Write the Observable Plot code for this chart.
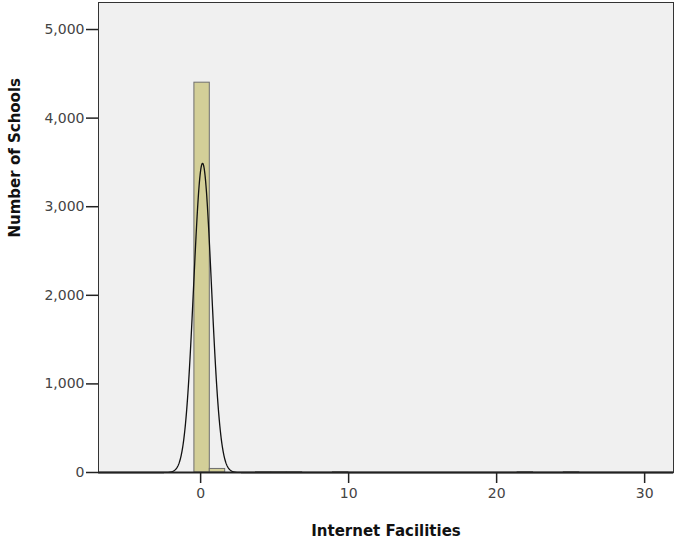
<!DOCTYPE html>
<html>
<head>
<meta charset="utf-8">
<script src="https://cdn.jsdelivr.net/npm/d3@7"></script>
<script src="https://cdn.jsdelivr.net/npm/@observablehq/plot@0.6"></script>
<style>
  html, body { margin: 0; padding: 0; background: #fff; }
</style>
</head>
<body>
<div id="chart"></div>
<script>
// Histogram bins (Internet Facilities) and counts (Number of Schools)
const binStart = [-0.42, 0.62, 3.74, 4.78, 5.82, 8.94, 21.42, 24.54];
const binEnd   = [ 0.62, 1.66, 4.78, 5.82, 6.86, 9.98, 22.46, 25.58];
const counts   = [ 4400,   40,    3,    3,    3,    3,     3,     3];

// Fitted normal curve parameters
const curveMean = 0.13;
const curveSd = 0.6;
const curvePeak = 3490;

const xTicks = [0, 10, 20, 30];
const yTicks = [0, 1000, 2000, 3000, 4000, 5000];
const xTitle = "Internet Facilities";
const yTitle = "Number of Schools";

const bins = binStart.map((s, i) => ({x1: s, x2: binEnd[i], y: counts[i]}));

const xDomain = [-6.9, 31.95];
const curve = d3.range(xDomain[0], xDomain[1], 0.02).map(x => ({
  x, y: curvePeak * Math.exp(-0.5 * ((x - curveMean) / curveSd) ** 2)
}));

const font = "'DejaVu Sans', sans-serif";

const plot = Plot.plot({
  width: 674,
  height: 542,
  marginLeft: 98,
  marginRight: 1,
  marginTop: 2,
  marginBottom: 70,
  style: {fontFamily: font, fontSize: "14px", color: "#444", background: "#fff"},
  x: {domain: xDomain},
  y: {domain: [0, 5305]},
  marks: [
    Plot.frame({fill: "#f0f0f0", stroke: null}),
    Plot.rectY(bins, {x1: "x1", x2: "x2", y: "y", fill: "#d3cf98", stroke: "#6e6e6e", strokeWidth: 1}),
    Plot.line(curve, {x: "x", y: "y", stroke: "#111", strokeWidth: 1.3}),
    Plot.frame({stroke: "#333", strokeWidth: 1}),
    Plot.ruleY([0], {stroke: "#222", strokeWidth: 2}),
    Plot.axisX({ticks: xTicks, tickSize: 11, tickPadding: 5, stroke: "#222", strokeWidth: 1.5, label: null, fill: "#444", fontSize: 14}),
    Plot.axisY({ticks: yTicks, tickSize: 12, tickPadding: 2, tickFormat: d3.format(","), stroke: "#222", strokeWidth: 1.5, label: null, fill: "#444", fontSize: 14}),
    Plot.text([xTitle], {text: d => d, frameAnchor: "bottom", lineAnchor: "middle", dy: 59, fontWeight: "bold", fontSize: 15, fill: "#111"}),
    Plot.text([yTitle], {text: d => d, frameAnchor: "left", rotate: -90, dx: -83, fontWeight: "bold", fontSize: 15, fill: "#111"})
  ]
});

document.getElementById("chart").appendChild(plot);
</script>
</body>
</html>
